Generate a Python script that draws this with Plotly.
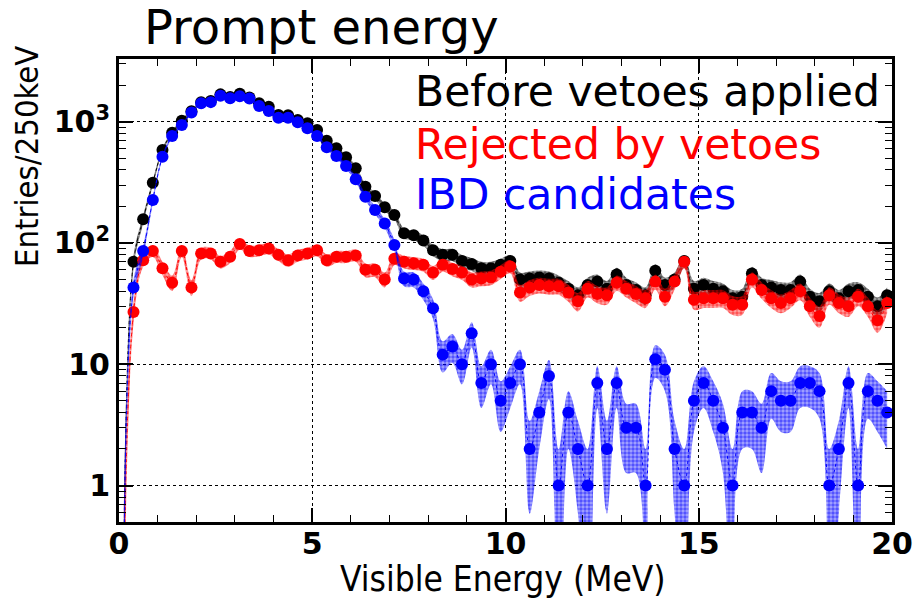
import numpy as np
import plotly.graph_objects as go

# ---------------- data ----------------
bin_width = 0.25  # MeV
energy = [0.125 + bin_width * i for i in range(80)]

before_vetoes = [0.2, 70, 157, 314, 584, 811, 1019, 1220, 1450, 1480,
                 1680, 1600, 1700, 1580, 1418, 1330, 1135, 1130, 1032, 970,
                 855, 697, 604, 508, 413, 291, 244, 197, 170, 120,
                 116, 105, 87, 80, 80, 71, 67, 62, 62, 66,
                 71, 50, 51, 52, 51, 47, 42, 37, 45, 48,
                 42, 55, 45, 41, 37, 59, 45, 50, 71, 42,
                 45, 42, 40, 35, 36, 56, 45, 43, 41, 41,
                 48, 36, 33, 40, 35, 40, 41, 36, 30, 37]

rejected = [0.2, 27, 72, 86, 62, 47, 86, 43, 82, 82,
            70, 77, 98, 86, 87, 90, 80, 72, 79, 82,
            87, 72, 77, 77, 79, 60, 60, 50, 74, 70,
            68, 66, 57, 66, 61, 57, 50, 51, 52, 58,
            64, 39, 43, 45, 44, 44, 39, 33, 42, 38,
            37, 47, 42, 38, 35, 48, 36, 48, 70, 34,
            35, 35, 35, 31, 31, 50, 41, 35, 32, 35,
            40, 30, 25, 37, 32, 30, 36, 30, 23, 32]

ibd = [0.2, 43, 86, 226, 514, 762, 940, 1190, 1420, 1450,
       1640, 1560, 1620, 1550, 1346, 1225, 1080, 1080, 989, 882,
       762, 615, 521, 431, 335, 241, 187, 145, 96, 51,
       50, 40, 29, 12, 14, 10, 18, 7, 10, 5,
       7, 10, 2, 4, 8, 1, 4, 2, 1, 7,
       2, 7, 3, 3, 1, 11, 9, 2, 1, 5,
       7, 5, 3, 1, 4, 4, 3, 6, 5, 5,
       7, 7, 6, 1, 2, 7, 1, 6, 5, 4]

series_names = ["Before vetoes applied", "Rejected by vetoes", "IBD candidates"]
series_colors = ["#000000", "#ff0000", "#0000ff"]
series_bg = ["rgba(0,0,0,0.35)", "rgba(255,0,0,0.35)", "rgba(0,0,255,0.35)"]
series_values = [before_vetoes, rejected, ibd]

y_tickvals = [1, 10, 100, 1000]
y_ticktext = ["1", "10", "10<sup>2</sup>", "10<sup>3</sup>"]
x_tickvals = [0, 5, 10, 15, 20]

# ---------------- geometry helpers ----------------
W, H = 916, 599
L, R, T, B = 119, 892, 59, 522


def px2x(px):
    return (px - L) / (R - L)


def py2y(py):
    return (B - py) / (B - T)


fig = go.Figure()

for name, color, bg, vals in zip(series_names, series_colors, series_bg, series_values):
    v = np.array(vals, dtype=float)
    err = np.sqrt(v)
    lower = np.maximum(v - err, 0.05)
    upper = v + err
    fig.add_trace(go.Scatter(x=energy, y=lower, mode="lines",
                             line=dict(color=color, width=0, shape="spline"),
                             showlegend=False, hoverinfo="skip"))
    fig.add_trace(go.Scatter(x=energy, y=upper, mode="lines",
                             line=dict(color=color, width=0, shape="spline"),
                             fill="tonexty", fillcolor="rgba(0,0,0,0)",
                             fillpattern=dict(shape=".", fgcolor=color, bgcolor=bg,
                                              size=4, solidity=0.6),
                             showlegend=False, hoverinfo="skip"))
    fig.add_trace(go.Scatter(x=energy, y=v, mode="lines+markers", name=name,
                             line=dict(color=color, width=1, shape="spline", dash="dot"),
                             marker=dict(color=color, size=12),
                             showlegend=False))

axis_common = dict(showline=True, linewidth=3, linecolor="black", mirror="allticks",
                   ticks="inside", tickcolor="black", tickwidth=2,
                   showgrid=True, gridcolor="black", griddash="dot", gridwidth=1,
                   zeroline=False, automargin=False)

tick_font = dict(family="DejaVu Sans", size=30, color="black", weight="bold")

fig.update_xaxes(range=[0, 20], tickmode="array", tickvals=x_tickvals, ticklen=14,
                 tickfont=tick_font, ticklabelstandoff=-7,
                 minor=dict(tickmode="array", tickvals=[i for i in range(21) if i % 5],
                            ticks="inside", ticklen=7, tickcolor="black", tickwidth=1,
                            showgrid=False),
                 **axis_common)

y_minor = [m * 10 ** d for d in range(-1, 4) for m in range(2, 10)]
fig.update_yaxes(type="log", range=[np.log10(0.5), 3.517], tickmode="array",
                 tickvals=y_tickvals, ticktext=y_ticktext, ticklen=14,
                 tickfont=tick_font,
                 minor=dict(tickmode="array", tickvals=y_minor, ticks="inside",
                            ticklen=7, tickcolor="black", tickwidth=1, showgrid=False),
                 **axis_common)

annotations = [
    dict(text="Prompt energy", x=px2x(142), y=py2y(27), xanchor="left", yanchor="middle",
         font=dict(family="DejaVu Sans", size=48, color="black")),
    dict(text="Visible Energy (MeV)", x=px2x(503), y=py2y(579), xanchor="center",
         yanchor="middle", font=dict(family="Liberation Sans Narrow, DejaVu Sans Condensed",
                                     size=35, color="black")),
    dict(text="Entries/250keV", x=px2x(27), y=py2y(157), xanchor="center", yanchor="middle",
         textangle=-90, font=dict(family="DejaVu Sans Condensed, DejaVu Sans", size=32.5,
                                  color="black")),
]
legend_y = [92, 144.5, 194.5]
for name, color, yy in zip(series_names, series_colors, legend_y):
    annotations.append(dict(text=name, x=px2x(413), y=py2y(yy), xanchor="left",
                            yanchor="middle",
                            font=dict(family="DejaVu Sans", size=42.5, color=color)))
for a in annotations:
    a.update(xref="paper", yref="paper", showarrow=False)

fig.update_layout(width=W, height=H, margin=dict(l=L, r=W - R, t=T, b=H - B),
                  paper_bgcolor="white", plot_bgcolor="white",
                  annotations=annotations, showlegend=False)

fig.write_html("out.html")
